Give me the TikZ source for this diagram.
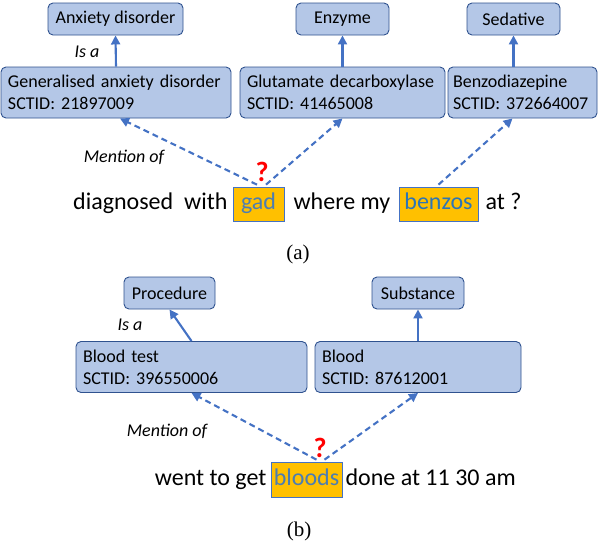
\documentclass[tikz,border=0pt]{standalone}
\usepackage{fontspec}
\setmainfont{Carlito}
\newfontfamily\capfont{Liberation Serif}
\usetikzlibrary{positioning,arrows.meta}
\definecolor{boxfill}{RGB}{180,199,231}
\definecolor{boxline}{RGB}{47,82,143}
\definecolor{linkblue}{RGB}{68,114,196}
\definecolor{hlfill}{RGB}{255,192,0}
\definecolor{wordblue}{RGB}{46,117,182}
\definecolor{gadblue}{RGB}{76,125,178}

\begin{document}
\begin{tikzpicture}[x=1pt, y=-1pt, inner sep=0pt, >={Triangle[length=9pt,width=9pt]},
  concept/.style={draw=boxline, fill=boxfill, rounded corners=5pt, line width=0.9pt, minimum height=32pt, font=\fontsize{18}{22}\selectfont},
  entity/.style={concept, minimum height=51pt, text width=#1, inner xsep=7pt, align=left, font=\fontsize{18}{22}\selectfont},
  word/.style={font=\fontsize{24}{28}\selectfont},
  hl/.style={word, draw=linkblue, fill=hlfill, line width=0.7pt, minimum height=34pt, text height=17pt, text depth=6pt},
  isa/.style={->, linkblue, line width=2.1pt},
  mention/.style={->, linkblue, line width=2.1pt, dash pattern=on 6pt off 4pt},
  note/.style={font=\fontsize{18}{22}\selectfont\itshape},
  query/.style={text=red, font=\fontsize{28}{32}\selectfont\bfseries},
  caption/.style={font=\capfont\fontsize{21}{24}\selectfont}]
\useasboundingbox (0,0) rectangle (598,542);

\node (anx) at (115.5,19) [concept, minimum width=135pt] {Anxiety disorder};
\node (enz) at (342.5,19) [concept, minimum width=93pt] {Enzyme};
\node (sed) at (513.5,19) [concept, minimum width=93pt] {Sedative};
\node (gen) at (116,92.5) [entity=216pt] {Generalised anxiety disorder\\SCTID: 21897009};
\node (glu) at (342.5,92.5) [entity=191pt] {Glutamate decarboxylase\\SCTID: 41465008};
\node (ben) at (522.5,92.5) [entity=139pt, inner xsep=5pt] {Benzodiazepine\\SCTID: 372664007};
\node (isa1) at (87,52) [note] {Is a};
\node (men1) at (124,157) [note] {Mention of};
\node (q1) at (262,172) [query] {?};

\node (gad) at (258.5,204) [hl, minimum width=51pt, text=gadblue] {gad};
\node (benzos) at (438.5,204) [hl, minimum width=79pt, text=wordblue] {benzos};
\node (pre1) [word, base left=5pt of gad] {diagnosed\ \ with};
\node (mid1) [word, base right=9pt of gad] {where my};
\node (tail1) [word, base right=7pt of benzos] {at ?};
\node (capa) at (298,254) [caption] {(a)};

\draw[isa] (gen.north) -- (anx.south);
\draw[isa] (glu.north) -- (enz.south);
\draw[isa] (sed.south |- ben.north) -- (sed.south);
\draw[mention] ([xshift=-1.5pt,yshift=2pt]gad.north) -- ([xshift=4pt]gen.south);
\draw[mention] ([xshift=7.5pt,yshift=2pt]gad.north) -- (glu.south);
\draw[mention] ([yshift=2pt]benzos.north) -- ([xshift=-10pt]ben.south);

\node (proc) at (169.5,293) [concept, minimum width=91pt] {Procedure};
\node (subs) at (418,293) [concept, minimum width=92pt] {Substance};
\node (bt) at (191.5,367) [entity=217pt] {Blood test\\SCTID: 396550006};
\node (bl) at (418,367) [entity=192pt] {Blood\\SCTID: 87612001};
\node (isa2) at (130,325) [note] {Is a};
\node (men2) at (167,431) [note] {Mention of};
\node (q2) at (320,448) [query] {?};

\node (bloods) at (306.5,479.5) [hl, minimum width=71pt, minimum height=35pt, text=gadblue] {bloods};
\node (pre2) [word, base left=4pt of bloods] {went to get};
\node (tail2) [word, base right=3pt of bloods] {done at 11 30 am};
\node (capb) at (299,531) [caption] {(b)};

\draw[isa] (bt.north) -- (proc.south);
\draw[isa] (bl.north) -- (subs.south);
\draw[mention] ([xshift=10pt,yshift=2pt]bloods.north) -- (bt.south);
\draw[mention] ([xshift=18pt,yshift=2pt]bloods.north) -- (bl.south);
\end{tikzpicture}
\end{document}
